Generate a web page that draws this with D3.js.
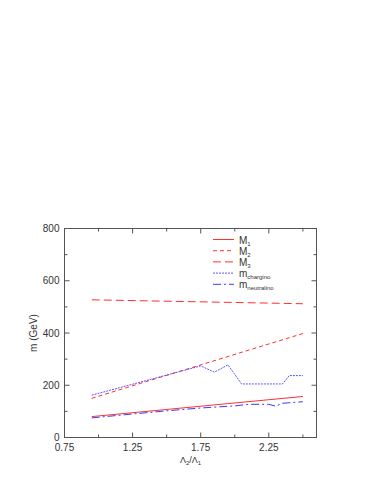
<!DOCTYPE html>
<html><head><meta charset="utf-8">
<script src="https://cdn.jsdelivr.net/npm/d3@7/dist/d3.min.js"></script>
<style>body{margin:0;background:#fff}svg{display:block}text{font-family:"Liberation Sans",Arial,sans-serif}</style>
</head><body>
<script>
const xMajorTicks = [0.75, 1.25, 1.75, 2.25];
const xMinorTicks = [1.0, 1.5, 2.0, 2.5];
const yMajorTicks = [0, 200, 400, 600, 800];
const yMinorTicks = [100, 300, 500, 700];

const M1 = [[0.95, 80], [2.5, 157]];
const M2 = [[0.95, 150], [2.5, 398]];
const M3 = [[0.95, 527], [2.5, 512]];
const mChargino = [[0.95, 162], [1.75, 274], [1.85, 250], [1.95, 278], [2.05, 205], [2.35, 205], [2.4, 237], [2.5, 237]];
const mNeutralino = [[0.95, 75], [1.25, 90], [1.5, 102], [1.75, 113], [2.0, 121], [2.1, 127], [2.25, 127], [2.3, 120], [2.35, 131], [2.5, 137]];

const seriesNames = ["M1", "M2", "M3", "mchargino", "mneutralino"];
const seriesData = [M1, M2, M3, mChargino, mNeutralino];
const seriesColors = ["#ff3030", "#ff3030", "#ff3030", "#5a5aff", "#3a3aff"];
const seriesDash = ["none", "4,3", "8,4", "2,1", "8,3,2,3"];
const legendMain = ["M", "M", "M", "m", "m"];
const legendSub = ["1", "2", "3", "chargino", "neutralino"];

const W = 382, H = 494;
const svg = d3.select("body").append("svg").attr("width", W).attr("height", H);
const L = 64.5, R = 316.5, T = 228.5, B = 437.5;
const x = d3.scaleLinear().domain([0.75, 2.6]).range([L, R]);
const y = d3.scaleLinear().domain([0, 800]).range([B, T]);

const g = svg.append("g");
g.append("rect").attr("x", L).attr("y", T).attr("width", R - L).attr("height", B - T)
  .attr("fill", "none").attr("stroke", "#555").attr("stroke-width", 1);

const tk = g.append("g").attr("stroke", "#555").attr("stroke-width", 1);
const maj = 5, mnr = 3;
xMajorTicks.forEach(v => {
  tk.append("line").attr("x1", x(v)).attr("x2", x(v)).attr("y1", B).attr("y2", B - maj);
  tk.append("line").attr("x1", x(v)).attr("x2", x(v)).attr("y1", T).attr("y2", T + maj);
});
xMinorTicks.forEach(v => {
  tk.append("line").attr("x1", x(v)).attr("x2", x(v)).attr("y1", B).attr("y2", B - mnr);
  tk.append("line").attr("x1", x(v)).attr("x2", x(v)).attr("y1", T).attr("y2", T + mnr);
});
yMajorTicks.forEach(v => {
  tk.append("line").attr("y1", y(v)).attr("y2", y(v)).attr("x1", L).attr("x2", L + maj);
  tk.append("line").attr("y1", y(v)).attr("y2", y(v)).attr("x1", R).attr("x2", R - maj);
});
yMinorTicks.forEach(v => {
  tk.append("line").attr("y1", y(v)).attr("y2", y(v)).attr("x1", L).attr("x2", L + mnr);
  tk.append("line").attr("y1", y(v)).attr("y2", y(v)).attr("x1", R).attr("x2", R - mnr);
});

g.selectAll(".xl").data(xMajorTicks).enter().append("text")
  .attr("x", d => x(d)).attr("y", B + 13).attr("text-anchor", "middle")
  .attr("font-size", 10).attr("fill", "#333").text(d => d.toFixed(2));
g.selectAll(".yl").data(yMajorTicks).enter().append("text")
  .attr("x", L - 5).attr("y", d => y(d) + 3.5).attr("text-anchor", "end")
  .attr("font-size", 10).attr("fill", "#333").text(d => d);

const xt = g.append("text").attr("x", (L + R) / 2).attr("y", B + 25).attr("text-anchor", "middle")
  .attr("font-size", 9).attr("fill", "#333");
xt.append("tspan").text("Λ");
xt.append("tspan").attr("font-size", 6).attr("dy", 2).text("2");
xt.append("tspan").attr("dy", -2).text("/Λ");
xt.append("tspan").attr("font-size", 6).attr("dy", 2).text("1");

g.append("text").attr("transform", `translate(37,${(T + B) / 2}) rotate(-90)`)
  .attr("text-anchor", "middle").attr("font-size", 10).attr("fill", "#333").text("m (GeV)");

const line = d3.line().x(d => x(d[0])).y(d => y(d[1]));
seriesData.forEach((s, i) => {
  g.append("path").datum(s).attr("d", line).attr("fill", "none")
    .attr("stroke", seriesColors[i]).attr("stroke-width", 1)
    .attr("stroke-dasharray", seriesDash[i]);
});

const lg = g.append("g");
seriesNames.forEach((n, i) => {
  const yy = 239.5 + i * 11.2;
  lg.append("line").attr("x1", 213).attr("x2", 234).attr("y1", yy).attr("y2", yy)
    .attr("stroke", seriesColors[i]).attr("stroke-width", 1)
    .attr("stroke-dasharray", seriesDash[i]);
  const t = lg.append("text").attr("x", 239).attr("y", yy + 4).attr("font-size", 10).attr("fill", "#333");
  t.append("tspan").text(legendMain[i]);
  t.append("tspan").attr("font-size", 6).attr("dy", 2).text(legendSub[i]);
});
</script>
</body></html>
